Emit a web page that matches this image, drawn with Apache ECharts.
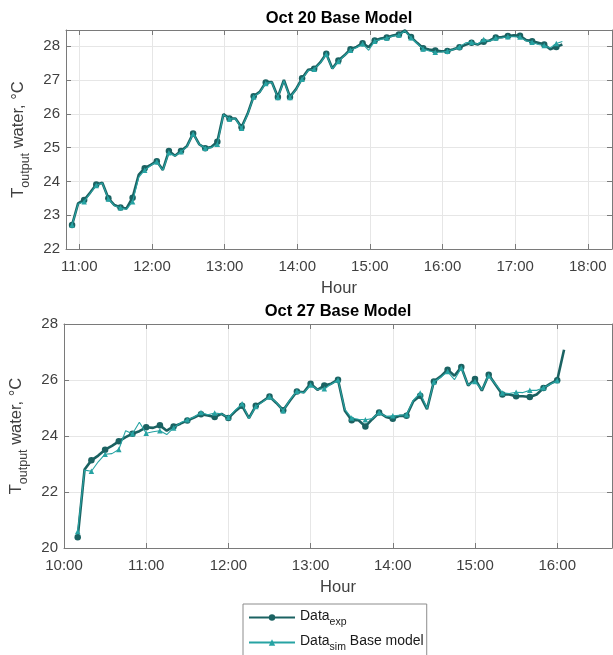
<!DOCTYPE html>
<html>
<head>
<meta charset="utf-8">
<script src="https://cdn.jsdelivr.net/npm/echarts@6/dist/echarts.min.js"></script>
<style>
  html, body { margin: 0; padding: 0; background: #ffffff; }
  #chart { width: 613px; height: 655px; }
</style>
</head>
<body>
<div id="chart"></div>
<script>
// Outlet water temperature, sampled every 5 minutes.
const stepMinutes = 5;
const markerEvery = 2;

// Oct 20 run, first sample at 10:54
const oct20Start = [10, 54];
const oct20Exp = [
  22.71, 23.35, 23.45, 23.67, 23.91, 23.96, 23.50, 23.30, 23.23, 23.20,
  23.52, 24.19, 24.39, 24.49, 24.60, 24.34, 24.90, 24.76, 24.90, 25.05,
  25.42, 25.10, 24.98, 25.02, 25.17, 25.99, 25.86, 25.86, 25.60, 26.00,
  26.52, 26.65, 26.93, 26.94, 26.50, 27.00, 26.50, 26.73, 27.05, 27.30,
  27.33, 27.52, 27.78, 27.34, 27.58, 27.73, 27.91, 27.98, 28.09, 27.97,
  28.17, 28.23, 28.26, 28.32, 28.35, 28.47, 28.27, 28.10, 27.94, 27.90,
  27.87, 27.85, 27.86, 27.91, 27.97, 28.04, 28.10, 28.05, 28.13, 28.17,
  28.26, 28.27, 28.30, 28.32, 28.31, 28.18, 28.15, 28.10, 28.05, 27.91,
  27.98, 28.05
];
const oct20Sim = [
  22.71, 23.33, 23.40, 23.65, 23.88, 23.95, 23.48, 23.28, 23.22, 23.17,
  23.40, 24.12, 24.33, 24.47, 24.58, 24.33, 24.85, 24.75, 24.88, 25.03,
  25.40, 25.10, 24.98, 25.00, 25.10, 25.97, 25.85, 25.85, 25.57, 25.98,
  26.50, 26.63, 26.90, 26.93, 26.48, 26.98, 26.48, 26.72, 27.02, 27.28,
  27.32, 27.50, 27.76, 27.33, 27.55, 27.72, 27.88, 27.96, 28.07, 27.88,
  28.15, 28.20, 28.24, 28.30, 28.33, 28.45, 28.25, 28.08, 27.92, 27.86,
  27.82, 27.83, 27.85, 27.90, 27.98, 28.10, 28.12, 28.06, 28.20, 28.15,
  28.24, 28.25, 28.28, 28.28, 28.27, 28.16, 28.12, 28.05, 28.02, 27.95,
  28.08, 28.14
];

// Oct 27 run, first sample at 10:10
const oct27Start = [10, 10];
const oct27Exp = [
  20.38, 22.80, 23.13, 23.30, 23.51, 23.65, 23.81, 23.96, 24.08, 24.17,
  24.31, 24.29, 24.38, 24.19, 24.34, 24.44, 24.55, 24.66, 24.78, 24.73,
  24.68, 24.79, 24.64, 24.88, 25.08, 24.64, 25.08, 25.24, 25.41, 25.18,
  24.92, 25.27, 25.59, 25.56, 25.87, 25.65, 25.80, 25.87, 26.01, 24.90,
  24.56, 24.56, 24.34, 24.60, 24.84, 24.68, 24.62, 24.72, 24.72, 25.24,
  25.44, 24.96, 25.95, 26.13, 26.37, 26.15, 26.46, 25.80, 26.04, 25.62,
  26.19, 25.83, 25.48, 25.48, 25.42, 25.42, 25.39, 25.48, 25.71, 25.87,
  25.99, 27.08
];
const oct27Sim = [
  20.59, 22.78, 22.74, 23.08, 23.35, 23.37, 23.52, 24.19, 24.08, 24.49,
  24.10, 24.15, 24.19, 24.05, 24.29, 24.47, 24.58, 24.68, 24.84, 24.76,
  24.82, 24.79, 24.66, 24.92, 25.15, 24.62, 25.05, 25.22, 25.40, 25.20,
  24.90, 25.30, 25.60, 25.54, 25.82, 25.66, 25.69, 25.85, 26.00, 24.95,
  24.64, 24.60, 24.58, 24.62, 24.84, 24.70, 24.72, 24.74, 24.76, 25.28,
  25.54, 24.98, 25.93, 26.10, 26.30, 26.01, 26.43, 25.82, 25.95, 25.65,
  26.15, 25.85, 25.54, 25.52, 25.56, 25.55, 25.63, 25.63, 25.72, 25.85,
  25.98
];

const titles = ['Oct 20 Base Model', 'Oct 27 Base Model'];
const seriesNames = ['Data_exp', 'Data_sim Base model'];

const expColor = '#1b6262';
const simColor = '#27a3a3';
const labelColor = '#404040';
const axisColor = '#7a7a7a';
const gridColor = '#e6e6e6';
const FONT = '"Liberation Sans", Arial, Helvetica, sans-serif';

function clock(day, h, m) {
  return new Date(2023, 9, day, h, m).getTime();
}
function samples(day, start, values) {
  return values.map((v, k) => [clock(day, start[0], start[1] + k * stepMinutes), v]);
}
function markSize(size) {
  return (val, params) => (params.dataIndex % markerEvery === 0 ? size : 0);
}

const HOUR = 3600 * 1000;

function timeAxis(gridIndex, min, max, bottom, showMin) {
  return {
    type: 'time', gridIndex, min, max,
    position: bottom ? 'bottom' : 'top',
    minInterval: HOUR, maxInterval: HOUR,
    name: bottom ? 'Hour' : '',
    nameLocation: 'middle', nameGap: 31,
    nameTextStyle: { fontFamily: FONT, fontSize: 16.5, color: labelColor },
    axisLine: { show: true, lineStyle: { color: axisColor, width: 1 } },
    axisTick: { show: true, inside: true, length: 5, lineStyle: { color: axisColor } },
    axisLabel: {
      show: bottom, margin: 10, formatter: '{HH}:{mm}',
      fontFamily: FONT, fontSize: 15, color: labelColor,
      showMinLabel: showMin, showMaxLabel: false
    },
    splitLine: { show: bottom, lineStyle: { color: gridColor, width: 1 } }
  };
}

function valueAxis(gridIndex, min, max, interval, left) {
  return {
    type: 'value', gridIndex, min, max, interval,
    position: left ? 'left' : 'right',
    name: left ? '{m|T}{sub|output}{m| water, °C}' : '',
    nameLocation: 'middle', nameGap: 27, nameRotate: 90,
    nameTextStyle: {
      fontFamily: FONT, color: labelColor,
      rich: {
        m: { fontFamily: FONT, fontSize: 16.5, color: labelColor, lineHeight: 19, verticalAlign: 'top' },
        sub: { fontFamily: FONT, fontSize: 12.5, color: labelColor, lineHeight: 14, verticalAlign: 'top', padding: [9, 0, 0, 0] }
      }
    },
    axisLine: { show: true, lineStyle: { color: axisColor, width: 1 } },
    axisTick: { show: true, inside: true, length: 5, lineStyle: { color: axisColor } },
    axisLabel: {
      show: left, margin: 6, fontFamily: FONT, fontSize: 15, color: labelColor,
      showMaxLabel: Number.isInteger(max / interval)
    },
    splitLine: { show: left, lineStyle: { color: gridColor, width: 1 } }
  };
}

function pair(xi, yi, expData, simData) {
  return [
    {
      name: seriesNames[0], type: 'line', xAxisIndex: xi, yAxisIndex: yi,
      data: expData, z: 2,
      symbol: 'circle', symbolSize: markSize(6.5), showSymbol: true, showAllSymbol: true,
      lineStyle: { color: expColor, width: 2.6 },
      itemStyle: { color: expColor }
    },
    {
      name: seriesNames[1], type: 'line', xAxisIndex: xi, yAxisIndex: yi,
      data: simData, z: 3,
      symbol: 'triangle', symbolSize: markSize(5.5), showSymbol: true, showAllSymbol: true,
      lineStyle: { color: simColor, width: 1.1 },
      itemStyle: { color: simColor }
    }
  ];
}

const chart = echarts.init(document.getElementById('chart'), null, { renderer: 'canvas' });

const option = {
  animation: false,
  backgroundColor: '#ffffff',
  grid: [
    { left: 66, top: 30, width: 546, height: 219, show: true, backgroundColor: '#ffffff', borderWidth: 0 },
    { left: 64, top: 324, width: 548, height: 224, show: true, backgroundColor: '#ffffff', borderWidth: 0 }
  ],
  xAxis: [
    timeAxis(0, clock(20, 10, 49), clock(20, 18, 20), true, false),
    timeAxis(0, clock(20, 10, 49), clock(20, 18, 20), false, false),
    timeAxis(1, clock(27, 10, 0), clock(27, 16, 40), true, true),
    timeAxis(1, clock(27, 10, 0), clock(27, 16, 40), false, true)
  ],
  yAxis: [
    valueAxis(0, 22, 28.48, 1, true),
    valueAxis(0, 22, 28.48, 1, false),
    valueAxis(1, 20, 28, 2, true),
    valueAxis(1, 20, 28, 2, false)
  ],
  graphic: [
    { type: 'text', x: 339, y: 10, style: { text: titles[0], fontFamily: FONT, fontSize: 16.5, fontWeight: 'bold', fill: '#000', textAlign: 'center', textVerticalAlign: 'top' } },
    { type: 'text', x: 338, y: 303, style: { text: titles[1], fontFamily: FONT, fontSize: 16.5, fontWeight: 'bold', fill: '#000', textAlign: 'center', textVerticalAlign: 'top' } }
  ],
  legend: {
    data: seriesNames,
    orient: 'vertical',
    left: 243, top: 604, height: 120,
    padding: [5, 3, 14, 5],
    itemGap: 6,
    itemWidth: 46, itemHeight: 8,
    borderColor: '#8c8c8c', borderWidth: 1,
    backgroundColor: '#ffffff',
    formatter: name => (name === seriesNames[0] ? '{m|Data}{sub|exp}' : '{m|Data}{sub|sim}{m| Base model}'),
    textStyle: {
      fontFamily: FONT, color: '#1a1a1a',
      rich: {
        m: { fontFamily: FONT, fontSize: 14, color: '#1a1a1a', lineHeight: 17, verticalAlign: 'top' },
        sub: { fontFamily: FONT, fontSize: 10.5, color: '#1a1a1a', lineHeight: 12, verticalAlign: 'top', padding: [8, 0, 0, 0] }
      }
    }
  },
  series: [
    ...pair(0, 0, samples(20, oct20Start, oct20Exp), samples(20, oct20Start, oct20Sim)),
    ...pair(2, 2, samples(27, oct27Start, oct27Exp), samples(27, oct27Start, oct27Sim))
  ]
};

chart.setOption(option);
</script>
</body>
</html>
